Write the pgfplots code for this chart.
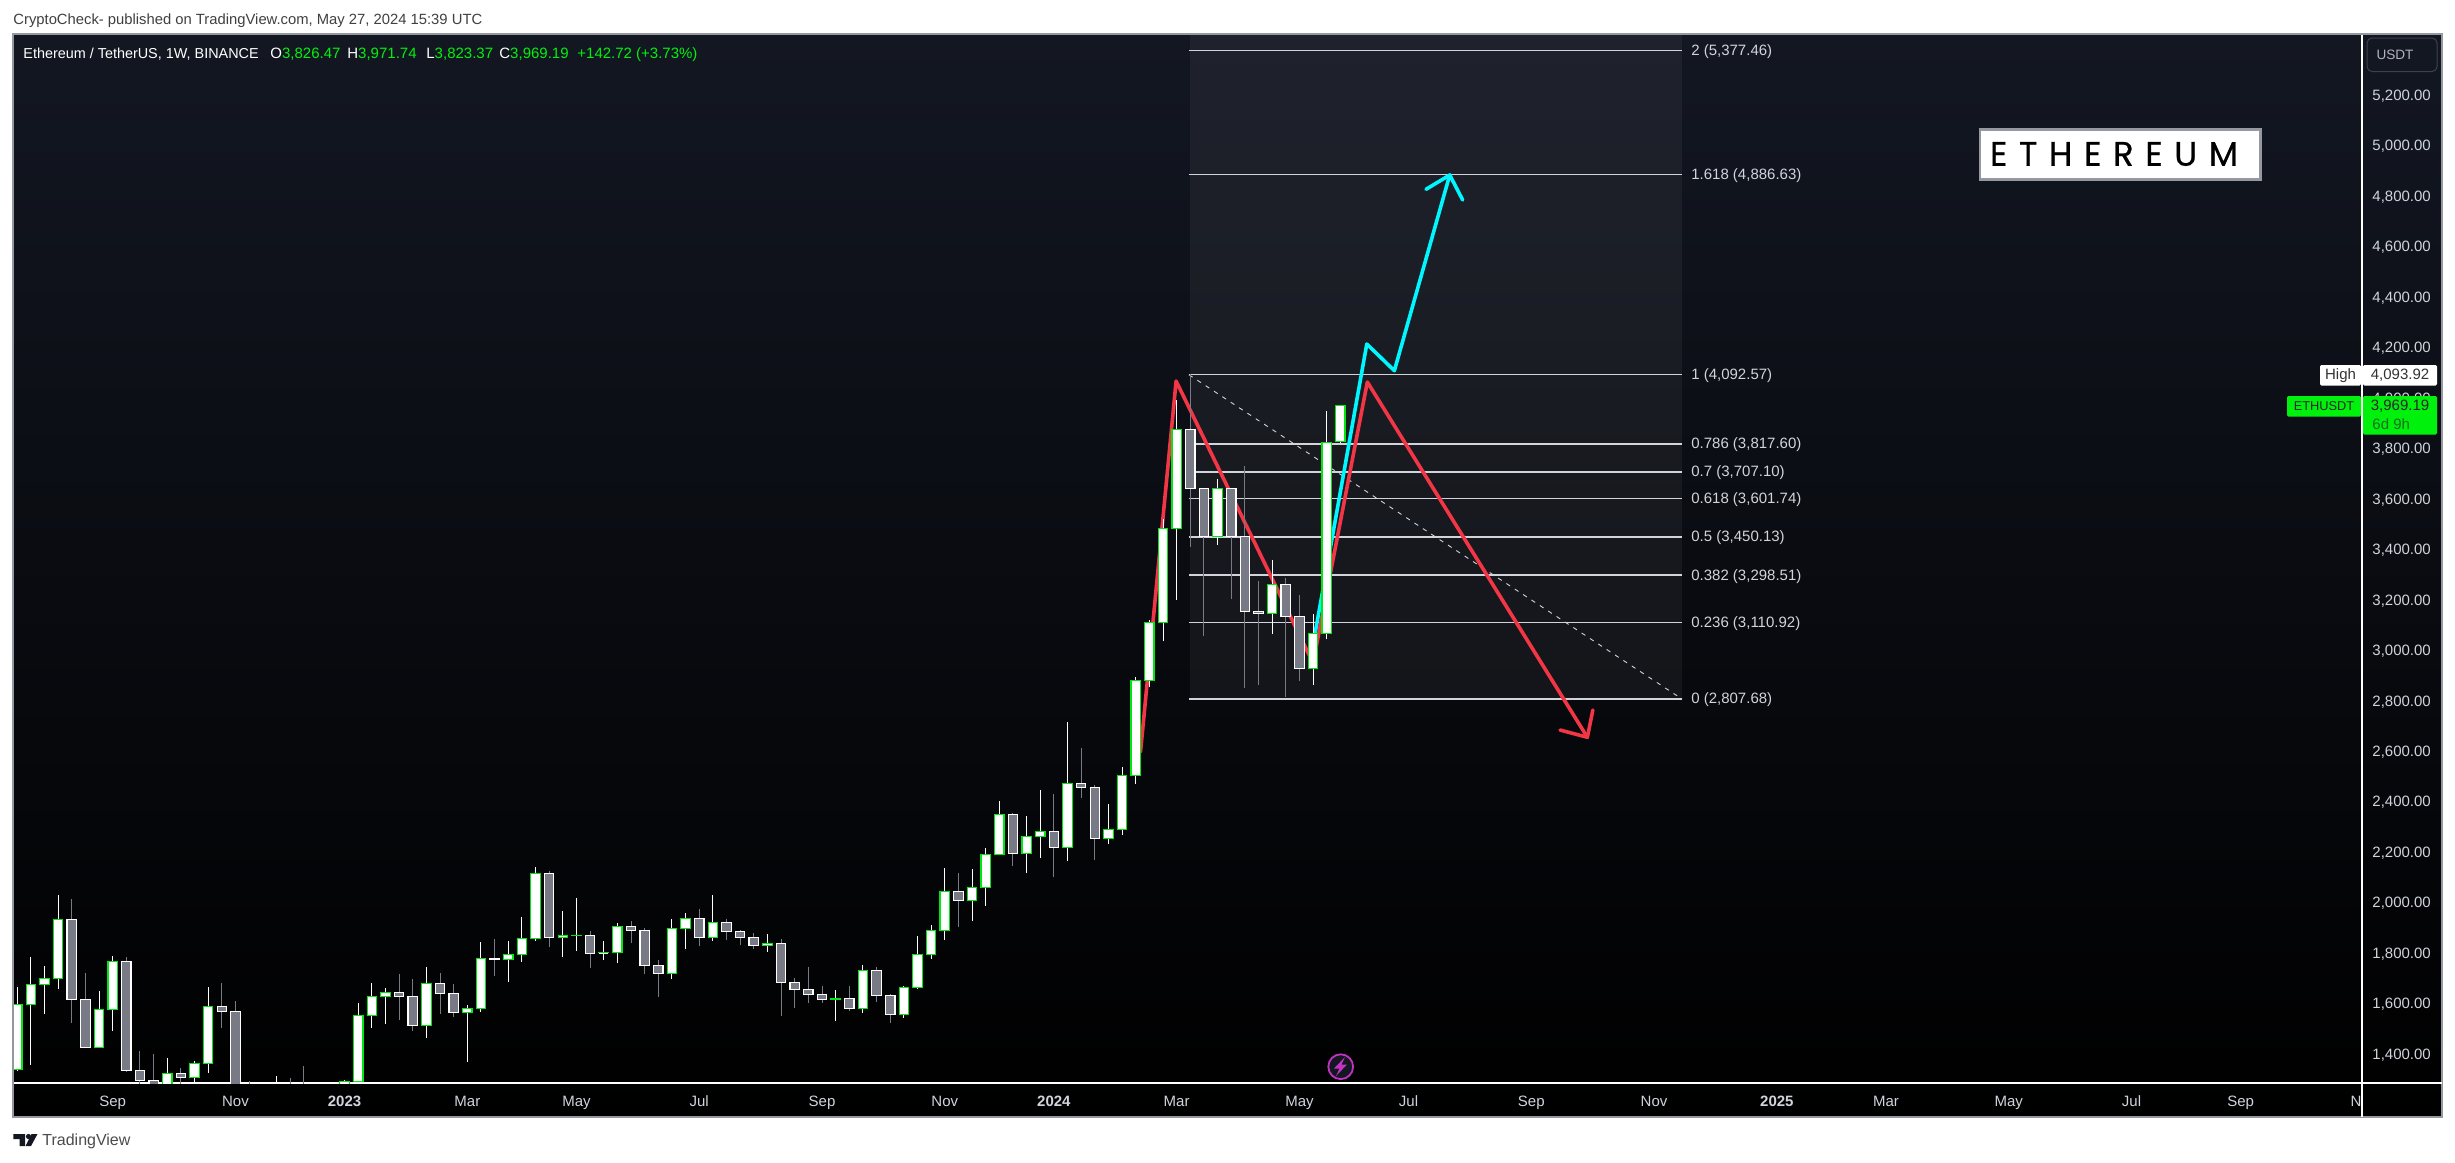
\documentclass[border=0pt]{standalone}
\usepackage{fontspec}
\usepackage{pgfplots}
\usepackage{pgfplotstable}
\pgfplotsset{compat=1.18}
\setmainfont{Liberation Sans}
\newfontfamily\logofont[LetterSpace=34,FakeBold=0.6]{Poppins}

\definecolor{bgtop}{HTML}{131722}
\definecolor{txt}{HTML}{D1D4DC}
\definecolor{upg}{HTML}{00E80F}
\definecolor{dng}{HTML}{787B86}
\definecolor{hdg}{HTML}{00F20C}
\definecolor{redl}{HTML}{F23645}
\definecolor{cyanl}{HTML}{00F7FF}
\definecolor{frame}{HTML}{9598A1}

% i open high low close, read off the price scale
\pgfplotstableread{
i o h l c
0 1340 1667 1335 1598
1 1598 1785 1358 1677
2 1677 1750 1560 1701
3 1701 2031 1659 1935
4 1935 2015 1524 1618
5 1618 1722 1428 1428
6 1428 1651 1428 1578
7 1578 1789 1492 1768
8 1768 1785 1330 1335
9 1336 1413 1280 1297
10 1297 1401 1170 1200
11 1200 1385 1180 1325
12 1325 1346 1250 1307
13 1307 1374 1270 1364
14 1364 1667 1326 1590
15 1590 1682 1504 1570
16 1570 1611 1100 1200
17 1200 1294 1050 1100
18 1050 1250 1000 1150
19 1150 1314 1100 1200
20 1200 1306 1150 1180
21 1180 1354 1150 1160
22 1160 1230 1120 1150
23 1150 1250 1100 1200
24 1200 1298 1150 1293
25 1292 1603 1289 1554
26 1554 1682 1504 1630
27 1630 1663 1520 1645
28 1645 1718 1536 1630
29 1630 1698 1494 1515
30 1515 1746 1465 1681
31 1681 1722 1560 1642
32 1642 1678 1548 1566
33 1566 1595 1370 1582
34 1582 1845 1568 1780
35 1778 1857 1710 1777
36 1776 1849 1686 1796
37 1796 1944 1766 1859
38 1859 2142 1850 2117
39 2117 2126 1825 1863
40 1863 1968 1785 1871
41 1871 2019 1809 1872
42 1871 1888 1742 1800
43 1802 1849 1774 1803
44 1803 1920 1762 1907
45 1907 1928 1841 1890
46 1890 1900 1718 1751
47 1751 1774 1627 1720
48 1720 1936 1698 1899
49 1898 1960 1817 1939
50 1939 1976 1829 1862
51 1862 2031 1849 1923
52 1923 1936 1853 1886
53 1886 1892 1833 1862
54 1862 1881 1817 1830
55 1830 1877 1805 1840
56 1840 1857 1552 1684
57 1684 1702 1583 1656
58 1656 1746 1603 1636
59 1636 1671 1603 1617
60 1619 1655 1532 1620
61 1622 1671 1572 1581
62 1581 1754 1564 1733
63 1733 1746 1607 1632
64 1633 1639 1524 1557
65 1557 1671 1544 1665
66 1665 1869 1659 1796
67 1796 1912 1778 1891
68 1891 2138 1853 2046
69 2046 2118 1904 2009
70 2009 2134 1928 2062
71 2061 2217 1988 2192
72 2192 2404 2191 2351
73 2351 2356 2146 2195
74 2195 2344 2118 2264
75 2264 2447 2178 2283
76 2283 2431 2102 2219
77 2219 2717 2166 2474
78 2474 2614 2415 2456
79 2457 2467 2170 2254
80 2254 2392 2233 2291
81 2291 2538 2269 2505
82 2505 2896 2471 2882
83 2882 3120 2855 3111
84 3111 3521 3037 3484
85 3484 3992 3200 3876
86 3876 4093.92 3411 3642
87 3642 3645 3057 3451
88 3451 3679 3418 3642
89 3642 3645 3204 3451
90 3451 3731 2851 3154
91 3154 3275 2863 3147
92 3147 3358 3065 3262
93 3262 3287 2815 3134
94 3134 3220 2879 2929
95 2929 3144 2863 3068
96 3068 3949 3045 3824
97 3826.47 3971.74 3823.37 3969.19
}\candles

\begin{document}
\begin{tikzpicture}
\begin{scope}[x=0.5pt,y=-0.5pt]
\path[use as bounding box,fill=white] (0,0) rectangle (2455,1162);
\shade[top color=bgtop,bottom color=black] (13,34) rectangle (2442,1117);
\end{scope}

\begin{axis}[
    at={(6.5pt,-541.5pt)},anchor=south west,
    scale only axis,width=1174.5pt,height=524.5pt,
    xmin=-0.308,xmax=171.9,ymin=1286.3,ymax=5442.4,
    axis x line*=bottom,axis y line*=right,
    axis line style={white,line width=0.55pt},
    major tick length=0pt,
    xtick={7,16,24,33,41,50,59,68,76,85,94,102,111,120,129,137,146,155,163},
    xticklabels={Sep,Nov,\textbf{2023},Mar,May,Jul,Sep,Nov,\textbf{2024},Mar,May,Jul,Sep,Nov,\textbf{2025},Mar,May,Jul,Sep},
    ytick={1400,1600,...,5200},
    /pgf/number format/.cd,fixed,fixed zerofill,precision=2,1000 sep={,},assume math mode=true,
    /pgfplots/.cd,
    tick label style={font=\fontsize{7.5pt}{9pt}\selectfont,text=txt,inner sep=0pt},
    x tick label style={anchor=base,yshift=-11.5pt},
    y tick label style={anchor=west,xshift=5pt,yshift=-0.4pt},
]
% fib block
\addplot[fill=white,fill opacity=0.05,draw=none] coordinates {(85.95,5442.4)(122.05,5442.4)(122.05,2807.68)(85.95,2807.68)} -- cycle;
\pgfplotsinvokeforeach{5377.46,4886.63,4092.57,3817.60,3707.10,3601.74,3450.13,3298.51,3110.92,2807.68}{
    \addplot[txt,line width=0.75pt] coordinates {(85.9,#1)(122.05,#1)};
}
\addplot[txt,line width=0.45pt,dash pattern=on 2.2pt off 2.8pt] coordinates {(85.9,4092.57)(122.05,2807.68)};

% drawn swings
\addplot[cyanl,line width=1.8pt,line join=round,line cap=round] coordinates {(94.93,3001.9)(98.94,4214.2)(100.96,4108.4)(105.02,4883.8)};
\addplot[cyanl,line width=1.8pt,line join=round,line cap=round] coordinates {(103.28,4827.1)(105.02,4883.8)(105.97,4784.8)};
\addplot[redl,line width=1.8pt,line join=round,line cap=round] coordinates {(82.35,2597.7)(84.96,4067.6)(95.0,2950.4)(98.98,4063.6)(115.11,2656)};
\addplot[redl,line width=1.8pt,line join=round,line cap=round] coordinates {(113.11,2684.9)(115.11,2656)(115.51,2764.1)};

% candles
\pgfplotsforeachungrouped \rowi in {0,...,97}{
    \pgfplotstablegetelem{\rowi}{i}\of\candles \let\ci\pgfplotsretval
    \pgfplotstablegetelem{\rowi}{o}\of\candles \let\co\pgfplotsretval
    \pgfplotstablegetelem{\rowi}{h}\of\candles \let\ch\pgfplotsretval
    \pgfplotstablegetelem{\rowi}{l}\of\candles \let\cl\pgfplotsretval
    \pgfplotstablegetelem{\rowi}{c}\of\candles \let\cc\pgfplotsretval
    \pgfmathsetmacro\xa{\ci-0.345}
    \pgfmathsetmacro\xb{\ci+0.345}
    \pgfmathparse{\cc>=\co?1:0}
    \ifdim\pgfmathresult pt>0.5pt
        \def\wickc{white}\def\fillc{white}\def\edgec{upg}
    \else
        \def\wickc{dng}\def\fillc{dng}\def\edgec{white}
    \fi
    \edef\temp{
        \noexpand\addplot[\wickc,line width=0.5pt] coordinates {(\ci,\cl)(\ci,\ch)};
        \noexpand\addplot[draw=\edgec,fill=\fillc,line width=0.6pt] coordinates {(\xa,\co)(\xb,\co)(\xb,\cc)(\xa,\cc)} -- cycle;
    }
    \temp
}

% fib labels
\begin{scope}[every node/.style={anchor=west,inner sep=0pt,yshift=-0.5pt,text=txt,font=\fontsize{7.5pt}{9pt}\selectfont}]
\node at (axis cs:122.7,5377.46) {2 (5,377.46)};
\node at (axis cs:122.7,4886.63) {1.618 (4,886.63)};
\node at (axis cs:122.7,4092.57) {1 (4,092.57)};
\node at (axis cs:122.7,3817.60) {0.786 (3,817.60)};
\node at (axis cs:122.7,3707.10) {0.7 (3,707.10)};
\node at (axis cs:122.7,3601.74) {0.618 (3,601.74)};
\node at (axis cs:122.7,3450.13) {0.5 (3,450.13)};
\node at (axis cs:122.7,3298.51) {0.382 (3,298.51)};
\node at (axis cs:122.7,3110.92) {0.236 (3,110.92)};
\node at (axis cs:122.7,2807.68) {0 (2,807.68)};
\end{scope}
\end{axis}

\begin{scope}[x=0.5pt,y=-0.5pt]
% chart frame and strips
\draw[frame,line width=0.65pt] (13,34) rectangle (2442,1117);
\draw[white,line width=0.55pt] (2362,1083) -- (2362,1117);
\draw[white,line width=0.55pt] (2362,1083) -- (2442,1083);
\begin{scope}
\clip (2300,1085) rectangle (2361.7,1116);
\node[anchor=base,inner sep=0pt,text=txt,font=\fontsize{7.5pt}{9pt}\selectfont] at (2364,1106) {Nov};
\end{scope}

% header lines
\node[anchor=west,inner sep=0pt,text=black!75,font=\fontsize{7.4pt}{9pt}\selectfont] at (13,20.5) {CryptoCheck- published on TradingView.com, May 27, 2024 15:39 UTC};
\begin{scope}[every node/.style={anchor=west,inner sep=0pt,font=\fontsize{7.5pt}{9pt}\selectfont}]
\node[text=white,font=\fontsize{7.2pt}{9pt}\selectfont] at (23,54.5) {Ethereum / TetherUS, 1W, BINANCE};
\node[text=white] at (270,54.5) {O\textcolor{hdg}{3,826.47}};
\node[text=white] at (347,54.5) {H\textcolor{hdg}{3,971.74}};
\node[text=white] at (426,54.5) {L\textcolor{hdg}{3,823.37}};
\node[text=white] at (499,54.5) {C\textcolor{hdg}{3,969.19}};
\node[text=hdg] at (577,54.5) {+142.72 (+3.73\%)};
\end{scope}

% price scale tags
\draw[draw=white!18!bgtop,fill=bgtop,rounded corners=2.5pt,line width=0.5pt] (2367,38) rectangle (2437,71.5);
\node[inner sep=0pt,text=txt!85!black,font=\fontsize{6.8pt}{8pt}\selectfont] at (2395,54.5) {USDT};
\begin{scope}[every node/.style={inner sep=0pt,font=\fontsize{7.5pt}{9pt}\selectfont}]
\fill[white,rounded corners=0.7pt] (2320,365) rectangle (2361,385.5);
\fill[white,rounded corners=0.7pt] (2363,365) rectangle (2437,385.5);
\node[text=black!80] at (2340.5,375.5) {High};
\node[text=black!80] at (2400,375.5) {4,093.92};
\fill[hdg,rounded corners=0.7pt] (2287,396) rectangle (2361,416.5);
\fill[hdg,rounded corners=0.7pt] (2363,396) rectangle (2437,434.5);
\node[text=black!85,font=\fontsize{6.4pt}{8pt}\selectfont] at (2324,406.5) {ETHUSDT};
\node[text=black!85] at (2400,406.5) {3,969.19};
\node[anchor=west,text=black!85,opacity=0.65] at (2372,424) {6d 9h};
\end{scope}

% name plate
\draw[frame,fill=white,line width=1.3pt] (1980,129.5) rectangle (2260.5,179.5);
\node[inner sep=0pt,text=black,font=\logofont\fontsize{17pt}{20pt}\selectfont] at (2114,154) {ETHEREUM};

% replay badge
\draw[fill=bgtop,draw=violet!60!magenta!80!white,line width=0.9pt] (1340.7,1066.7) circle (12.4);
\fill[violet!60!magenta!80!white] (1345,1057) -- (1334,1068.5) -- (1339.5,1068.5) -- (1336,1076) -- (1347,1064.5) -- (1341.5,1064.5) -- cycle;

% footer mark
\fill[bgtop] (13.4,1134) -- (25,1134) -- (25,1146) -- (19.5,1146) -- (19.5,1139) -- (13.4,1139) -- cycle;
\fill[bgtop] (28.5,1136.5) circle (2.6);
\fill[bgtop] (31.5,1134) -- (37.5,1134) -- (31,1146) -- (25.5,1146) -- cycle;
\node[anchor=west,inner sep=0pt,text=black!70,font=\fontsize{8pt}{10pt}\selectfont] at (42,1141) {TradingView};
\end{scope}
\end{tikzpicture}
\end{document}
